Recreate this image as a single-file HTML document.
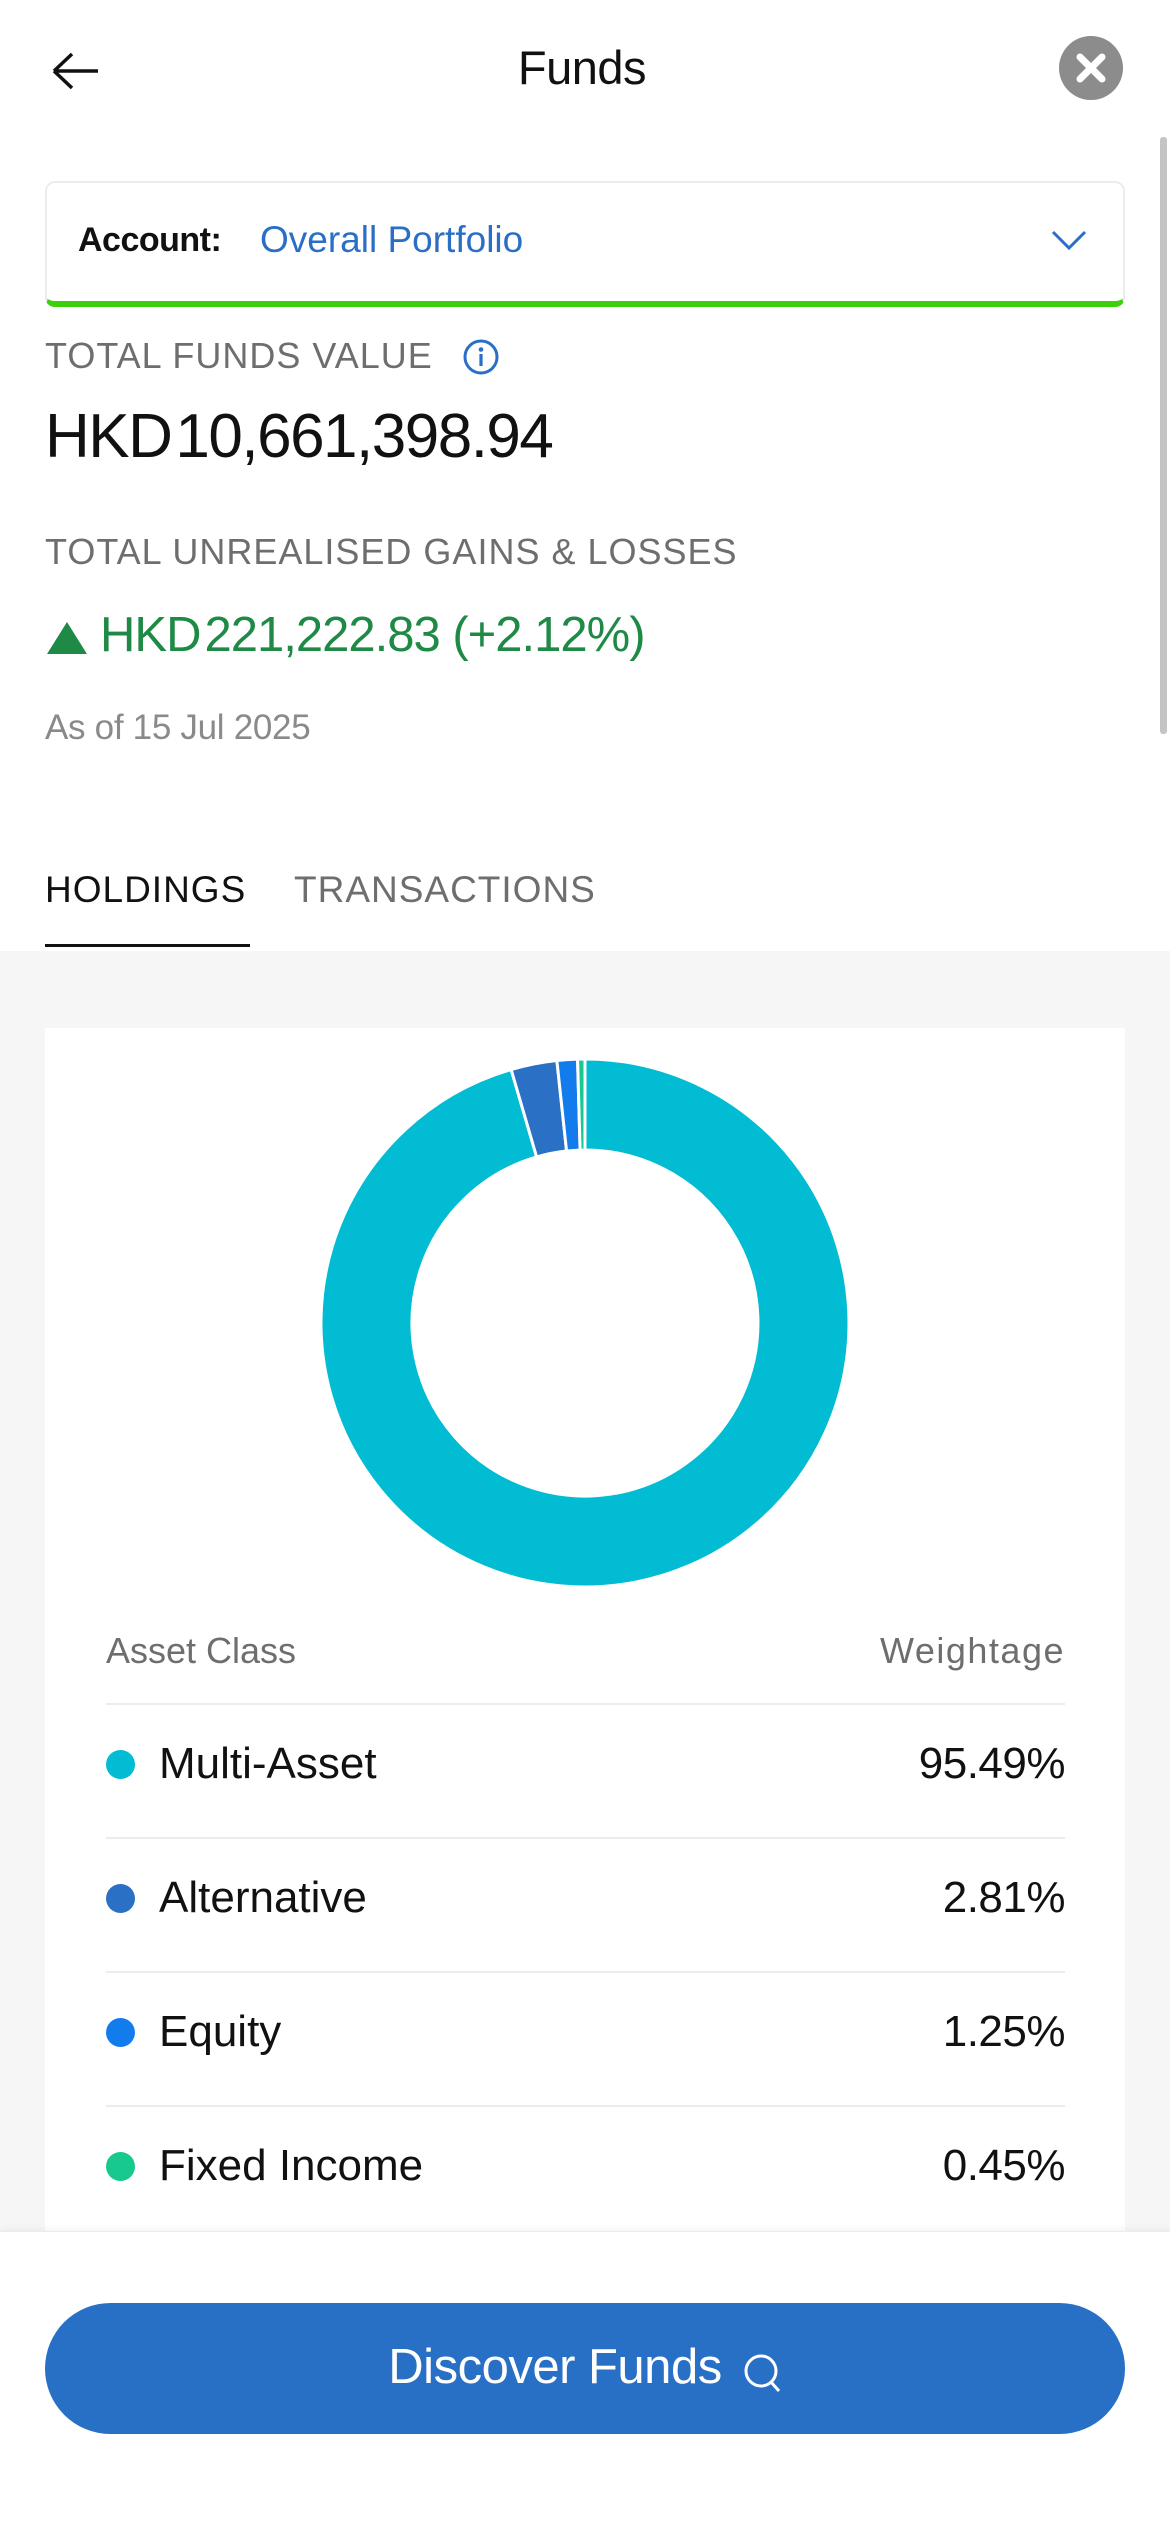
<!DOCTYPE html>
<html><head><meta charset="utf-8"><style>
*{margin:0;padding:0;box-sizing:border-box}
body{width:1170px;height:2532px;position:relative;background:#fff;font-family:"Liberation Sans",sans-serif;overflow:hidden;color:#111}
.a{position:absolute;white-space:nowrap}
</style></head><body>
<svg class="a" style="left:50px;top:50px" width="50" height="42"><path d="M4 21H48M4 21L22 4M4 21L22 38" stroke="#111" stroke-width="3.5" fill="none"/></svg>
<div class="a" style="left:0;width:1164px;top:40px;text-align:center;font-size:47px;line-height:56px;letter-spacing:-0.5px">Funds</div>
<div class="a" style="left:1059px;top:36px;width:64px;height:64px;border-radius:50%;background:#8c8c8c"></div>
<svg class="a" style="left:1059px;top:36px" width="64" height="64"><path d="M21 21L43 43M43 21L21 43" stroke="#fff" stroke-width="7" stroke-linecap="round"/></svg>
<div class="a" style="left:1160px;top:137px;width:7px;height:597px;background:#c4c4c4;border-radius:3px"></div>
<div class="a" style="left:45px;top:181px;width:1080px;height:126px;border:2px solid #ececec;border-bottom:6px solid #3ccf0a;border-radius:10px"></div>
<div class="a" style="left:78px;top:220px;font-size:34px;font-weight:bold;line-height:40px;letter-spacing:-0.5px">Account:</div>
<div class="a" style="left:260px;top:220px;font-size:37px;line-height:40px;color:#2a6ec7;letter-spacing:0px">Overall Portfolio</div>
<svg class="a" style="left:1050px;top:228px" width="40" height="24"><path d="M3 4L19 20L35 4" stroke="#2a6ec7" stroke-width="3" fill="none"/></svg>
<div class="a" style="left:45px;top:334px;font-size:36px;line-height:44px;color:#6e6e6e;letter-spacing:1px">TOTAL FUNDS VALUE</div>
<svg class="a" style="left:462px;top:338px" width="38" height="38"><circle cx="19" cy="19" r="16" stroke="#2a6ec7" stroke-width="3" fill="none"/><circle cx="19" cy="11.5" r="2.3" fill="#2a6ec7"/><path d="M19 16V28" stroke="#2a6ec7" stroke-width="3.2"/></svg>
<div class="a" style="left:45px;top:401px;font-size:62px;line-height:72px;letter-spacing:-1.5px">HKD<span style="margin-left:4px">10,661,398.94</span></div>
<div class="a" style="left:45px;top:530px;font-size:36px;line-height:44px;color:#6e6e6e;letter-spacing:1px">TOTAL UNREALISED GAINS &amp; LOSSES</div>
<svg class="a" style="left:47px;top:620px" width="40" height="34"><path d="M0 34L20 2L40 34Z" fill="#1e8a45"/></svg>
<div class="a" style="left:100px;top:605px;font-size:49px;line-height:60px;color:#1e8a45;letter-spacing:-1px">HKD<span style="margin-left:4px">221,222.83 (+2.12%)</span></div>
<div class="a" style="left:45px;top:707px;font-size:35px;line-height:42px;color:#8a8a8a;letter-spacing:-0.3px">As of 15 Jul 2025</div>
<div class="a" style="left:45px;top:868px;font-size:37px;line-height:44px;color:#111;letter-spacing:1px">HOLDINGS</div>
<div class="a" style="left:294px;top:868px;font-size:37px;line-height:44px;color:#6e6e6e;letter-spacing:1px">TRANSACTIONS</div>
<div class="a" style="left:45px;top:944px;width:205px;height:3px;background:#111"></div>
<div class="a" style="left:0;top:951px;width:1170px;height:1280px;background:#f6f6f6"></div>
<div class="a" style="left:45px;top:1028px;width:1080px;height:1203px;background:#fff"></div>
<svg class="a" style="left:0;top:0" width="1170" height="2532">
<g stroke="#fff" stroke-width="3" stroke-linejoin="miter">
<path d="M585 1059A264 264 0 1 1 511.16 1069.53L536.61 1156.9A173 173 0 1 0 585 1150Z" fill="#01bcd2"/>
<path d="M511.16 1069.53A264 264 0 0 1 556.86 1060.5L566.56 1150.99A173 173 0 0 0 536.61 1156.9Z" fill="#2a70c5"/>
<path d="M556.86 1060.5A264 264 0 0 1 577.54 1059.11L580.11 1150.07A173 173 0 0 0 566.56 1150.99Z" fill="#137ced"/>
<path d="M577.54 1059.11A264 264 0 0 1 585 1059L585 1150A173 173 0 0 0 580.11 1150.07Z" fill="#17c98f"/>
</g></svg>
<div class="a" style="left:106px;top:1630px;font-size:36px;line-height:42px;color:#6e6e6e;letter-spacing:0px">Asset Class</div>
<div class="a" style="right:105px;top:1630px;font-size:36px;line-height:42px;color:#6e6e6e;letter-spacing:1.5px">Weightage</div>
<div class="a" style="left:106px;top:1703px;width:959px;height:2px;background:#ececec"></div>
<div class="a" style="left:106px;top:1837px;width:959px;height:2px;background:#ececec"></div>
<div class="a" style="left:106px;top:1971px;width:959px;height:2px;background:#ececec"></div>
<div class="a" style="left:106px;top:2105px;width:959px;height:2px;background:#ececec"></div>
<div class="a" style="left:106px;top:1750px;width:29px;height:29px;border-radius:50%;background:#01bcd2"></div>
<div class="a" style="left:106px;top:1884px;width:29px;height:29px;border-radius:50%;background:#2a70c5"></div>
<div class="a" style="left:106px;top:2018px;width:29px;height:29px;border-radius:50%;background:#137ced"></div>
<div class="a" style="left:106px;top:2152px;width:29px;height:29px;border-radius:50%;background:#17c98f"></div>
<div class="a" style="left:159px;top:1738px;font-size:44px;line-height:52px;letter-spacing:0px">Multi-Asset</div>
<div class="a" style="left:159px;top:1872px;font-size:44px;line-height:52px;letter-spacing:0px">Alternative</div>
<div class="a" style="left:159px;top:2006px;font-size:44px;line-height:52px;letter-spacing:0px">Equity</div>
<div class="a" style="left:159px;top:2140px;font-size:44px;line-height:52px;letter-spacing:0px">Fixed Income</div>
<div class="a" style="right:105px;top:1738px;font-size:44px;line-height:52px;letter-spacing:-0.5px">95.49%</div>
<div class="a" style="right:105px;top:1872px;font-size:44px;line-height:52px;letter-spacing:-0.5px">2.81%</div>
<div class="a" style="right:105px;top:2006px;font-size:44px;line-height:52px;letter-spacing:-0.5px">1.25%</div>
<div class="a" style="right:105px;top:2140px;font-size:44px;line-height:52px;letter-spacing:-0.5px">0.45%</div>
<div class="a" style="left:0;top:2231px;width:1170px;height:301px;background:#fff;border-top:1px solid #ececec;box-shadow:0 -3px 6px rgba(0,0,0,0.04)"></div>
<div class="a" style="left:45px;top:2303px;width:1080px;height:131px;border-radius:66px;background:#2870c6"></div>
<div class="a" style="left:45px;top:2338px;width:1020px;text-align:center;font-size:49px;line-height:58px;color:#fff;letter-spacing:-0.5px">Discover Funds</div>
<svg class="a" style="left:742px;top:2352px" width="42" height="44"><circle cx="19" cy="19" r="15" stroke="#fff" stroke-width="3" fill="none"/><path d="M29 30L37 39" stroke="#fff" stroke-width="3"/></svg>
</body></html>
